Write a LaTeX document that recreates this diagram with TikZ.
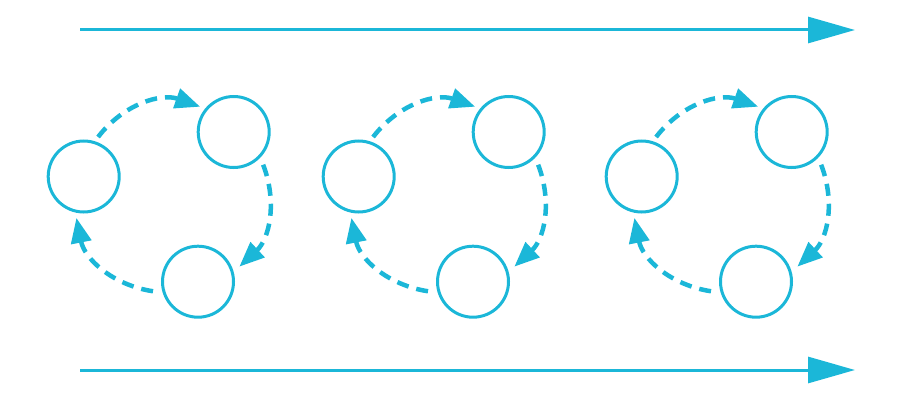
\documentclass[tikz,border=0pt]{standalone}
\usetikzlibrary{arrows.meta,calc}
\definecolor{cy}{HTML}{1BB7D8}
\begin{document}
\begin{tikzpicture}[x=1pt,y=1pt,
  ring/.style={circle,draw=cy,line width=3pt,minimum size=71pt,inner sep=0pt},
  flow/.style={draw=cy,line width=3pt,-{Triangle[length=47pt,width=26pt]}},
  cyc/.style={draw=cy,line width=4.5pt,dash pattern=on 12pt off 8pt,-{Triangle[length=25pt,width=20pt]}}]
\useasboundingbox (0,0) rectangle (900,400);
% horizontal arrows
\coordinate (ts) at (80,370);
\coordinate (te) at (855,370);
\coordinate (bs) at (80,30);
\coordinate (be) at (855,30);
\draw[flow] (ts) -- (te);
\draw[flow] (bs) -- (be);
% groups
\foreach \g/\dx in {1/0,2/275,3/558}{
  \node[ring] (L\g) at (83.7+\dx,223.5) {};
  \node[ring] (T\g) at (233.7+\dx,268) {};
  \node[ring] (B\g) at (198+\dx,118.3) {};
  \draw[cyc] ($(L\g.center)+(70:42)$) to[bend left=36] ($(T\g.center)+(143:42)$);
  \draw[cyc] ($(T\g.center)+(-48:44)$) to[bend left=34] ($(B\g.center)+(20:44)$);
  \draw[cyc] ($(B\g.center)+(192:46)$) to[bend left=35] ($(L\g.center)+(260:42)$);
}
\end{tikzpicture}
\end{document}
